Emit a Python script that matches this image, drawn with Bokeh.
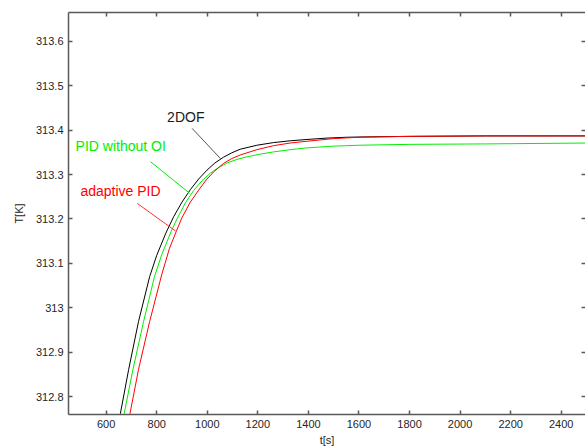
from bokeh.plotting import figure
from bokeh.models import Range1d, FixedTicker, LinearAxis, Label
from bokeh.embed import file_html
from bokeh.resources import INLINE

# ---- data ----
t_2dof = [656, 689, 728, 772, 800, 836, 867, 900, 933, 966, 999, 1030, 1064, 1097, 1130, 1196,
          1262, 1328, 1394, 1470, 1550, 1650, 1800, 2100, 2500]
T_2dof = [312.761, 312.861, 312.969, 313.070, 313.118, 313.168, 313.205, 313.238, 313.266, 313.290,
          313.310, 313.326, 313.339, 313.349, 313.357, 313.366, 313.372, 313.376, 313.379, 313.382,
          313.384, 313.385, 313.386, 313.387, 313.387]

t_pid = [671, 706, 748, 791, 820, 857, 880, 913, 946, 979, 1012, 1045, 1078, 1117, 1157, 1210,
         1262, 1328, 1394, 1500, 1600, 1800, 2100, 2500]
T_pid = [312.761, 312.861, 312.969, 313.070, 313.120, 313.172, 313.200, 313.236, 313.264, 313.286,
         313.303, 313.316, 313.326, 313.334, 313.340, 313.346, 313.351, 313.356, 313.360, 313.364,
         313.366, 313.368, 313.369, 313.371]

t_adapt = [694, 728, 772, 820, 850, 878, 900, 933, 966, 996, 1025, 1064, 1097, 1130, 1196, 1262,
           1328, 1394, 1500, 1600, 1800, 2100, 2500]
T_adapt = [312.761, 312.861, 312.969, 313.075, 313.133, 313.173, 313.203, 313.238, 313.265, 313.288,
           313.306, 313.325, 313.336, 313.344, 313.356, 313.365, 313.371, 313.375, 313.381, 313.384,
           313.386, 313.387, 313.387]

x_ticks = [600, 800, 1000, 1200, 1400, 1600, 1800, 2000, 2200, 2400]
y_ticks = [312.8, 312.9, 313.0, 313.1, 313.2, 313.3, 313.4, 313.5, 313.6]
y_tick_labels = ["312.8", "312.9", "313", "313.1", "313.2", "313.3", "313.4", "313.5", "313.6"]

series_names = ["2DOF", "PID without OI", "adaptive PID"]
series_colors = ["#000000", "#00ee00", "#ff0000"]

FONT = "Liberation Sans"
AX = "#5a5a5a"
TXT = "#262626"

p = figure(width=585, height=448, output_backend="svg", toolbar_location=None,
           x_range=Range1d(451, 2496), y_range=Range1d(312.7595, 313.665),
           min_border_left=68, min_border_right=0, min_border_top=12, min_border_bottom=33,
           x_axis_label="t[s]", y_axis_label="T[K]")
p.grid.visible = False
p.outline_line_color = None
p.background_fill_color = "white"
p.border_fill_color = "white"

def style_axis(ax):
    ax.axis_line_color = AX
    ax.axis_line_width = 1.5
    ax.major_tick_line_color = AX
    ax.major_tick_line_width = 1.5
    ax.major_tick_in = 4
    ax.major_tick_out = 0
    ax.minor_tick_in = 0
    ax.minor_tick_out = 0
    ax.minor_tick_line_color = None
    ax.major_label_text_font = FONT
    ax.major_label_text_color = TXT
    ax.major_label_text_font_size = "11px"
    ax.axis_label_text_font = FONT
    ax.axis_label_text_color = TXT
    ax.axis_label_text_font_style = "normal"
    ax.axis_label_text_font_size = "11px"

xa = p.xaxis[0]
xa.ticker = FixedTicker(ticks=x_ticks)
style_axis(xa)
xa.major_label_standoff = 5
xa.axis_label_standoff = 3

ya = p.yaxis[0]
ya.ticker = FixedTicker(ticks=y_ticks)
ya.major_label_overrides = dict(zip(y_ticks, y_tick_labels))
style_axis(ya)
ya.major_label_standoff = 5
ya.axis_label_standoff = 8

# frame edges with inward ticks, no labels (top and right)
top = LinearAxis(ticker=FixedTicker(ticks=x_ticks))
style_axis(top)
top.major_label_overrides = {t: "" for t in x_ticks}
top.major_label_standoff = 0
p.add_layout(top, "above")

right = LinearAxis(ticker=FixedTicker(ticks=y_ticks))
style_axis(right)
right.major_label_overrides = {t: "" for t in y_ticks}
right.major_label_standoff = 0
right.axis_line_color = None
p.add_layout(right, "right")

# curves
p.line(t_2dof, T_2dof, line_color=series_colors[0], line_width=1)
p.line(t_pid, T_pid, line_color=series_colors[1], line_width=1)
p.line(t_adapt, T_adapt, line_color=series_colors[2], line_width=1)

# annotations: text and leader lines
lab_x = [841, 479, 498]
lab_y = [313.430, 313.364, 313.263]
lead_x0 = [940, 775, 723]
lead_y0 = [313.404, 313.329, 313.235]
lead_x1 = [1052, 930, 874]
lead_y1 = [313.336, 313.258, 313.173]

p.segment(x0=lead_x0, y0=lead_y0, x1=lead_x1, y1=lead_y1,
          line_color=["#555555", "#00ee00", "#ff3030"], line_width=1)

for name, col, x, y in zip(series_names, series_colors, lab_x, lab_y):
    p.add_layout(Label(x=x, y=y, text=name, text_color=("#1a1a1a" if col == "#000000" else col),
                       text_font=FONT, text_font_size="14px",
                       text_align="left", text_baseline="middle"))

open("out.html", "w").write(file_html(p, INLINE))
